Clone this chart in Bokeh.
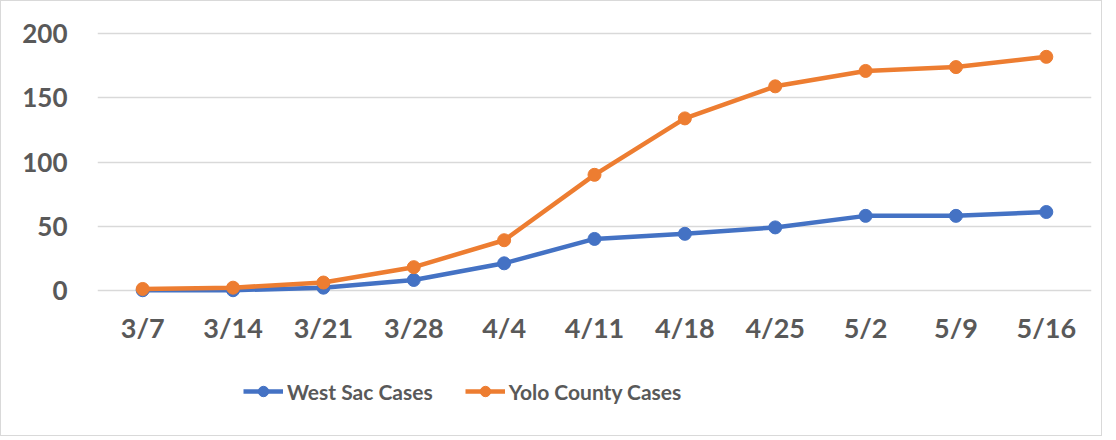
from bokeh.plotting import figure
from bokeh.layouts import column
from bokeh.models import FactorRange, Range1d, Legend, LegendItem, FixedTicker
from bokeh.embed import file_html
from bokeh.resources import INLINE

dates = ["3/7", "3/14", "3/21", "3/28", "4/4", "4/11", "4/18", "4/25", "5/2", "5/9", "5/16"]
west_sac = [0, 0, 2, 8, 21, 40, 44, 49, 58, 58, 61]
yolo = [1, 2, 6, 18, 39, 90, 134, 159, 171, 174, 182]
y_ticks = [0, 50, 100, 150, 200]
series_names = ["West Sac Cases", "Yolo County Cases"]

BLUE = "#4472C4"
ORANGE = "#ED7D31"
TXT = "#595959"
FONT = "Lato"

p = figure(width=1100, height=360, x_range=FactorRange(*dates, range_padding=0),
           y_range=Range1d(-8, 208), output_backend="svg", toolbar_location=None,
           min_border_left=96, min_border_right=10, min_border_top=22, min_border_bottom=61)
p.outline_line_color = None
p.background_fill_color = "white"
p.border_fill_color = "white"

p.xgrid.grid_line_color = None
p.ygrid.grid_line_color = "#d9d9d9"
p.ygrid.grid_line_width = 1.3
p.yaxis.ticker = FixedTicker(ticks=y_ticks)

for ax in (p.xaxis, p.yaxis):
    ax.axis_line_color = None
    ax.major_tick_line_color = None
    ax.minor_tick_line_color = None
    ax.major_label_text_font = FONT
    ax.major_label_text_font_style = "bold"
    ax.major_label_text_color = TXT
    ax.major_tick_out = 0
    ax.major_tick_in = 0
p.yaxis.major_label_text_font_size = "26px"
p.xaxis.major_label_text_font_size = "27px"
p.yaxis.major_label_standoff = 30
p.xaxis.major_label_standoff = 10

def add_series(fig, ys, color):
    ln = fig.line(dates, ys, line_color=color, line_width=4.5)
    sc = fig.scatter(dates, ys, size=13, fill_color=color, line_color=color)
    return ln, sc

add_series(p, west_sac, BLUE)
add_series(p, yolo, ORANGE)

# legend strip below the chart (series drawn out of view; only the legend shows)
lg = figure(width=1100, height=74, x_range=FactorRange(*dates, range_padding=0),
            y_range=Range1d(-1000, -999),
            x_axis_location=None, y_axis_location=None,
            output_backend="svg", toolbar_location=None,
            min_border=0, min_border_left=0, min_border_right=0,
            min_border_top=0, min_border_bottom=0)
lg.grid.grid_line_color = None
lg.outline_line_color = None
lg.border_fill_color = "white"
lb1, lb1s = add_series(lg, west_sac, BLUE)
lb2, lb2s = add_series(lg, yolo, ORANGE)

legend = Legend(items=[LegendItem(label=series_names[0], renderers=[lb1, lb1s]),
                       LegendItem(label=series_names[1], renderers=[lb2, lb2s])],
                orientation="horizontal", location=(146, 31))
legend.border_line_color = None
legend.background_fill_alpha = 0
legend.padding = 0
legend.margin = 0
legend.spacing = 32
legend.glyph_width = 40
legend.glyph_height = 26
legend.label_standoff = 4
legend.label_text_font = FONT
legend.label_text_font_style = "bold"
legend.label_text_font_size = "21px"
legend.label_text_color = TXT
lg.add_layout(legend, "center")

layout = column(p, lg, spacing=0)
layout.styles = {"border": "1px solid #d9d9d9", "background": "white"}

html = file_html(layout, INLINE)
html = html.replace("<head>", "<head><style>html,body{overflow:hidden;}</style>", 1)
open("out.html", "w").write(html)
